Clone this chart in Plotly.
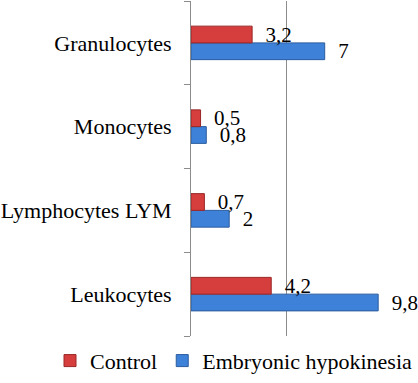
import plotly.graph_objects as go

categories = ["Leukocytes", "Lymphocytes LYM", "Monocytes", "Granulocytes"]
control = [4.2, 0.7, 0.5, 3.2]
hypokinesia = [9.8, 2, 0.8, 7]
control_labels = ["4,2", "0,7", "0,5", "3,2"]
hypokinesia_labels = ["9,8", "2", "0,8", "7"]

FONT = "Liberation Serif"
pad = "\u00a0\u00a0"

fig = go.Figure()
fig.add_trace(go.Bar(
    y=categories, x=hypokinesia, orientation="h", name="Embryonic hypokinesia",
    marker=dict(color="#3D82D8", line=dict(color="#2B5C9E", width=1)),
    text=[pad + t for t in hypokinesia_labels], textposition="outside",
    constraintext="none",
    textfont=dict(family=FONT, size=21, color="black"), cliponaxis=False,
    legendrank=2,
))
fig.add_trace(go.Bar(
    y=categories, x=control, orientation="h", name="Control",
    marker=dict(color="#D63E3D", line=dict(color="#9A2626", width=1)),
    text=[pad + t for t in control_labels], textposition="outside",
    constraintext="none",
    textfont=dict(family=FONT, size=21, color="black"), cliponaxis=False,
    legendrank=1,
))

fig.update_layout(
    width=418, height=383,
    margin=dict(l=191, r=36, t=1, b=45),
    paper_bgcolor="white", plot_bgcolor="white",
    barmode="group", bargap=0.6, bargroupgap=0,
    font=dict(family=FONT, size=22, color="black"),
    showlegend=True,
    legend=dict(orientation="h", x=-0.71, xanchor="left", y=-0.074, yanchor="middle",
                font=dict(family=FONT, size=22, color="black"),
                bgcolor="rgba(0,0,0,0)", tracegroupgap=0),
    xaxis=dict(range=[0, 10], dtick=5, showgrid=True, gridcolor="#8C8C8C", gridwidth=1,
               showticklabels=False, zeroline=False, showline=False, ticks=""),
    yaxis=dict(showline=True, linecolor="#8C8C8C", linewidth=1, ticks="outside",
               tickson="boundaries", ticklen=6, tickcolor="#8C8C8C",
               showgrid=False, tickfont=dict(family=FONT, size=22, color="black"),
               ticklabelstandoff=14),
)

fig.write_html("out.html", config={"displayModeBar": False},
               post_script="document.body.style.margin='0';")
